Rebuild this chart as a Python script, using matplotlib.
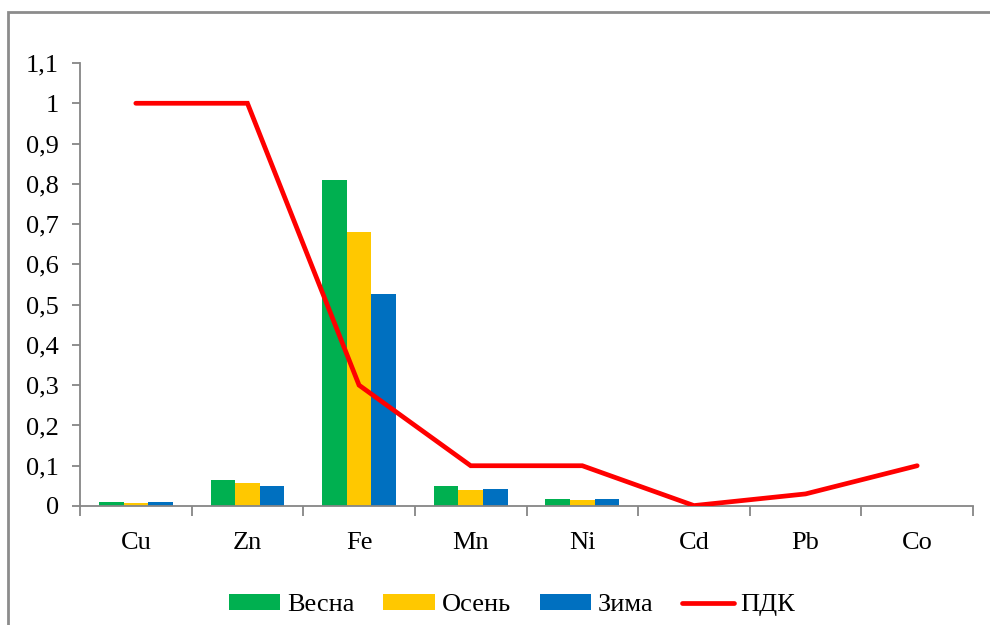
import matplotlib
matplotlib.use("Agg")
import matplotlib.pyplot as plt
from matplotlib.patches import Rectangle
from matplotlib.ticker import FixedLocator, FuncFormatter
import numpy as np

categories = ["Cu", "Zn", "Fe", "Mn", "Ni", "Cd", "Pb", "Co"]
vesna = [0.011, 0.065, 0.81, 0.050, 0.018, 0, 0, 0]
osen = [0.007, 0.056, 0.68, 0.040, 0.015, 0, 0, 0]
zima = [0.011, 0.050, 0.526, 0.043, 0.018, 0, 0, 0]
pdk = [1, 1, 0.3, 0.1, 0.1, 0.001, 0.03, 0.1]
series_names = ["Весна", "Осень", "Зима", "ПДК"]
yticks = [0, 0.1, 0.2, 0.3, 0.4, 0.5, 0.6, 0.7, 0.8, 0.9, 1.0, 1.1]

plt.rcParams['font.family'] = 'serif'
plt.rcParams['font.serif'] = ['Liberation Serif', 'DejaVu Serif']

fig = plt.figure(figsize=(9.9, 6.25), dpi=100)
ax = fig.add_axes([80/990, 1-506/625, (973-80)/990, (506-63)/625])

# outer frame
fig.patches.append(Rectangle((8/990, -0.05), 1.2, 1-12/625+0.05, transform=fig.transFigure,
                             fill=False, edgecolor='#8c8c8c', linewidth=2, zorder=0))

x = np.arange(len(categories))
w = 0.22
h1 = ax.bar(x - w, vesna, w, color='#00B050', label=series_names[0], zorder=2)
h2 = ax.bar(x, osen, w, color='#FFC800', label=series_names[1], zorder=2)
h3 = ax.bar(x + w, zima, w, color='#0070C0', label=series_names[2], zorder=2)
h4, = ax.plot(x, pdk, color='#FF0000', linewidth=3.4, solid_capstyle='round',
              solid_joinstyle='miter', label=series_names[3], zorder=3)

ax.set_xlim(-0.5, len(categories) - 0.5)
ax.set_ylim(0, 1.1)

for s in ['top', 'right']:
    ax.spines[s].set_visible(False)
for s in ['left', 'bottom']:
    ax.spines[s].set_color('#868686')
    ax.spines[s].set_linewidth(1.3)

ax.yaxis.set_major_locator(FixedLocator(yticks))
ax.yaxis.set_major_formatter(FuncFormatter(lambda v, p: ('%g' % round(v, 2)).replace('.', ',')))
ax.tick_params(axis='y', direction='out', length=6, width=1.3, color='#868686',
               labelsize=19, pad=9)

ax.set_xticks(np.arange(-0.5, len(categories), 1.0))
ax.set_xticklabels([])
ax.set_xticks(x, minor=True)
ax.set_xticklabels(categories, minor=True)
ax.tick_params(axis='x', which='major', direction='out', length=7, width=1.3, color='#868686')
ax.tick_params(axis='x', which='minor', length=0, labelsize=19, pad=19)

leg = fig.legend([h1, h2, h3, h4], series_names, loc='center',
                 bbox_to_anchor=(512/990, 1-605/625), ncol=4, frameon=False,
                 fontsize=19, handlelength=1.95, handleheight=0.55, columnspacing=1.1,
                 handletextpad=0.25)

fig.savefig("out.png", dpi=100)
